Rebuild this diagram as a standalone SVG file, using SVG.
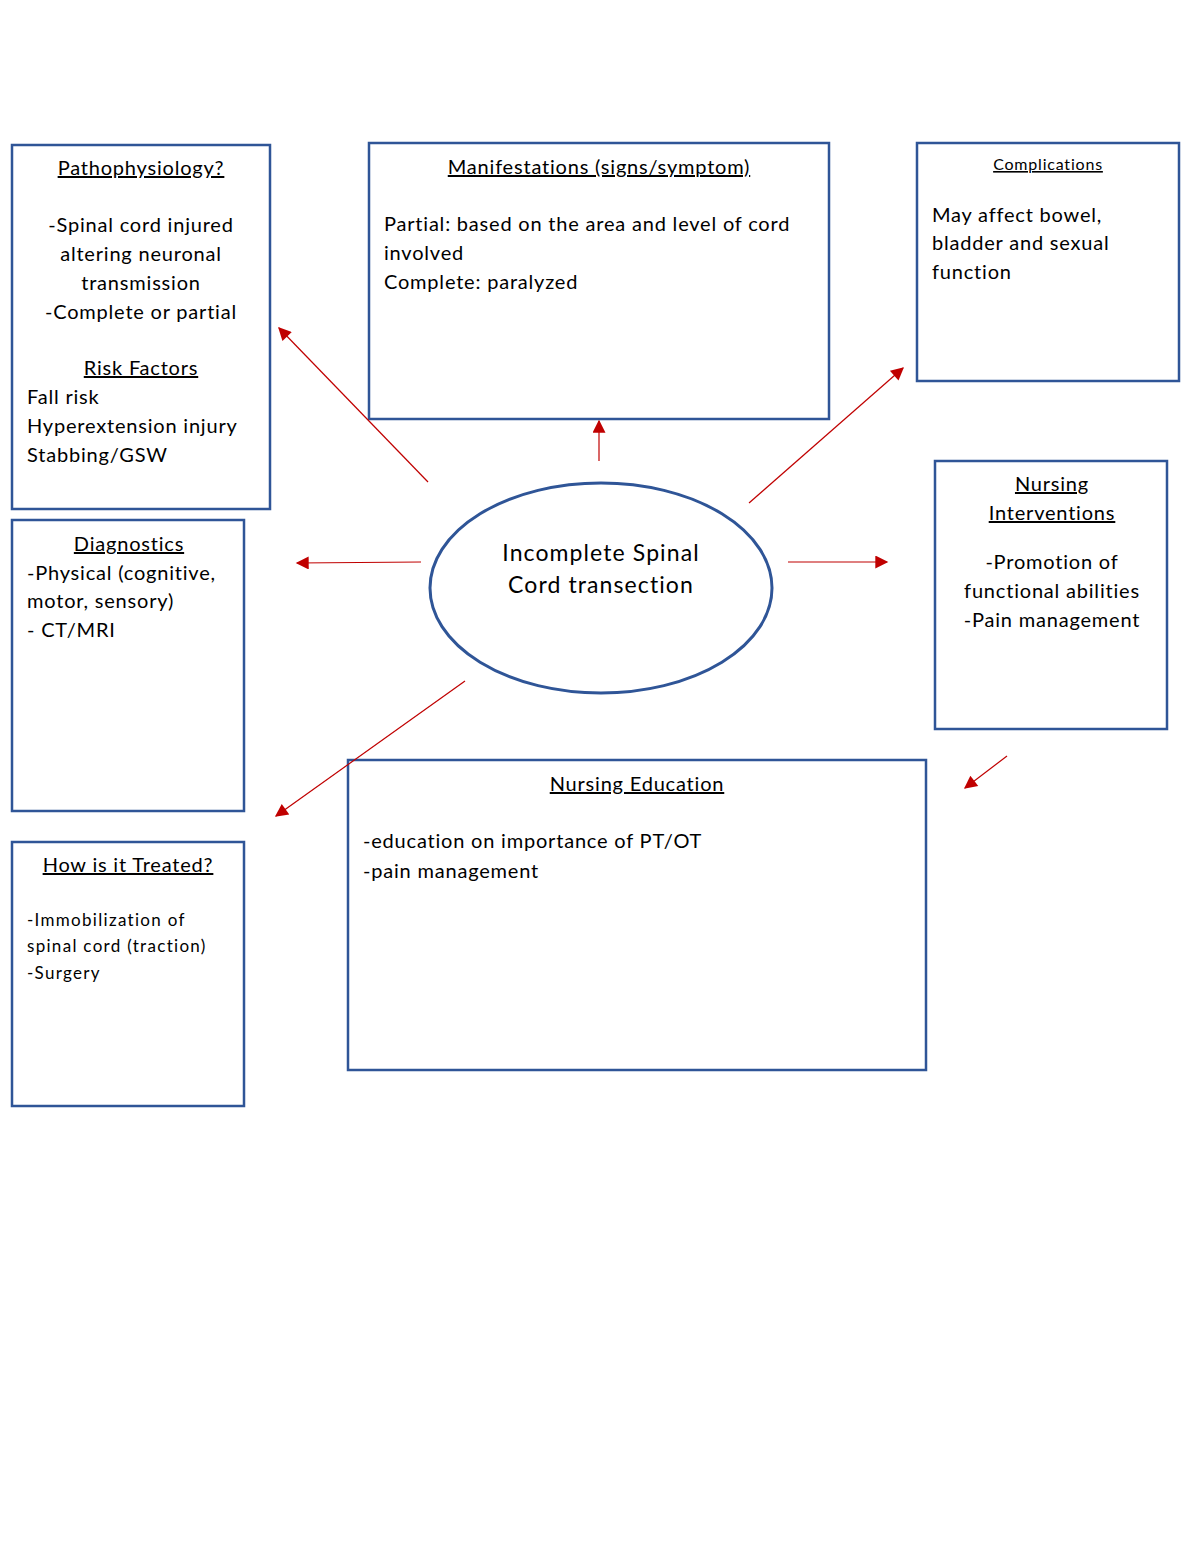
<svg xmlns="http://www.w3.org/2000/svg" width="1200" height="1553" viewBox="0 0 1200 1553">
<style>
.box{fill:#fff;stroke:#2f5597;stroke-width:2.5}
.t{font-family:Lato,"Liberation Sans",sans-serif;font-size:20px;fill:#000;letter-spacing:0.8px}
.c{text-anchor:middle}
.u{text-decoration:underline}
.s{font-size:17px;letter-spacing:1.3px}
.e{font-size:23px;letter-spacing:1.1px}
.conn line{stroke:#c00000;stroke-width:1.2;fill:none}
</style>
<defs>
<marker id="ah2" viewBox="0 0 10 10" refX="9" refY="5" markerWidth="15" markerHeight="13" markerUnits="userSpaceOnUse" orient="auto">
<path d="M0,0 L10,5 L0,10 z" fill="#c00000"/>
</marker>
</defs>
<rect width="1200" height="1553" fill="#fff"/>
<g id="patho">
<rect class="box" x="12" y="145" width="258" height="364"/>
<text class="t c u" x="141" y="175">Pathophysiology?</text>
<text class="t c" x="141" y="232">-Spinal cord injured</text>
<text class="t c" x="141" y="261">altering neuronal</text>
<text class="t c" x="141" y="290">transmission</text>
<text class="t c" x="141" y="319">-Complete or partial</text>
<text class="t c u" x="141" y="375">Risk Factors</text>
<text class="t" x="27" y="404">Fall risk</text>
<text class="t" x="27" y="433">Hyperextension injury</text>
<text class="t" x="27" y="462">Stabbing/GSW</text>
</g>
<g id="manif">
<rect class="box" x="369" y="143" width="460" height="276"/>
<text class="t c u" x="599" y="174">Manifestations (signs/symptom)</text>
<text class="t" x="384" y="231">Partial: based on the area and level of cord</text>
<text class="t" x="384" y="260">involved</text>
<text class="t" x="384" y="289">Complete: paralyzed</text>
</g>
<g id="compl">
<rect class="box" x="917" y="143" width="262" height="238"/>
<text class="t c u" x="1048" y="170" style="font-size:16px">Complications</text>
<text class="t" x="932" y="222">May affect bowel,</text>
<text class="t" x="932" y="250">bladder and sexual</text>
<text class="t" x="932" y="279">function</text>
</g>
<g id="interv">
<rect class="box" x="935" y="461" width="232" height="268"/>
<text class="t c u" x="1052" y="491">Nursing</text>
<text class="t c u" x="1052" y="520">Interventions</text>
<text class="t c" x="1052" y="569">-Promotion of</text>
<text class="t c" x="1052" y="598">functional abilities</text>
<text class="t c" x="1052" y="627">-Pain management</text>
</g>
<g id="center">
<ellipse cx="601" cy="588" rx="171" ry="105" fill="#fff" stroke="#2f5597" stroke-width="3"/>
<text class="t c e" x="601" y="561">Incomplete Spinal</text>
<text class="t c e" x="601" y="593">Cord transection</text>
</g>
<g id="diag">
<rect class="box" x="12" y="520" width="232" height="291"/>
<text class="t c u" x="129" y="551">Diagnostics</text>
<text class="t" x="27" y="580">-Physical (cognitive,</text>
<text class="t" x="27" y="608">motor, sensory)</text>
<text class="t" x="27" y="637">- CT/MRI</text>
</g>
<g id="treat">
<rect class="box" x="12" y="842" width="232" height="264"/>
<text class="t c u" x="128" y="872">How is it Treated?</text>
<text class="t s" x="27" y="926">-Immobilization of</text>
<text class="t s" x="27" y="952">spinal cord (traction)</text>
<text class="t s" x="27" y="979">-Surgery</text>
</g>
<g id="educ">
<rect class="box" x="348" y="760" width="578" height="310"/>
<text class="t c u" x="637" y="791">Nursing Education</text>
<text class="t" x="363" y="848">-education on importance of PT/OT</text>
<text class="t" x="363" y="878">-pain management</text>
</g>
<g id="connectors" class="conn">
<line x1="428" y1="482" x2="279" y2="328" marker-end="url(#ah2)"/>
<line x1="599" y1="461" x2="599" y2="421" marker-end="url(#ah2)"/>
<line x1="749" y1="503" x2="903" y2="368" marker-end="url(#ah2)"/>
<line x1="421" y1="562" x2="297" y2="563" marker-end="url(#ah2)"/>
<line x1="788" y1="562" x2="887" y2="562" marker-end="url(#ah2)"/>
<line x1="465" y1="681" x2="276" y2="816" marker-end="url(#ah2)"/>
<line x1="1007" y1="756" x2="965" y2="788" marker-end="url(#ah2)"/>
</g>
</svg>
